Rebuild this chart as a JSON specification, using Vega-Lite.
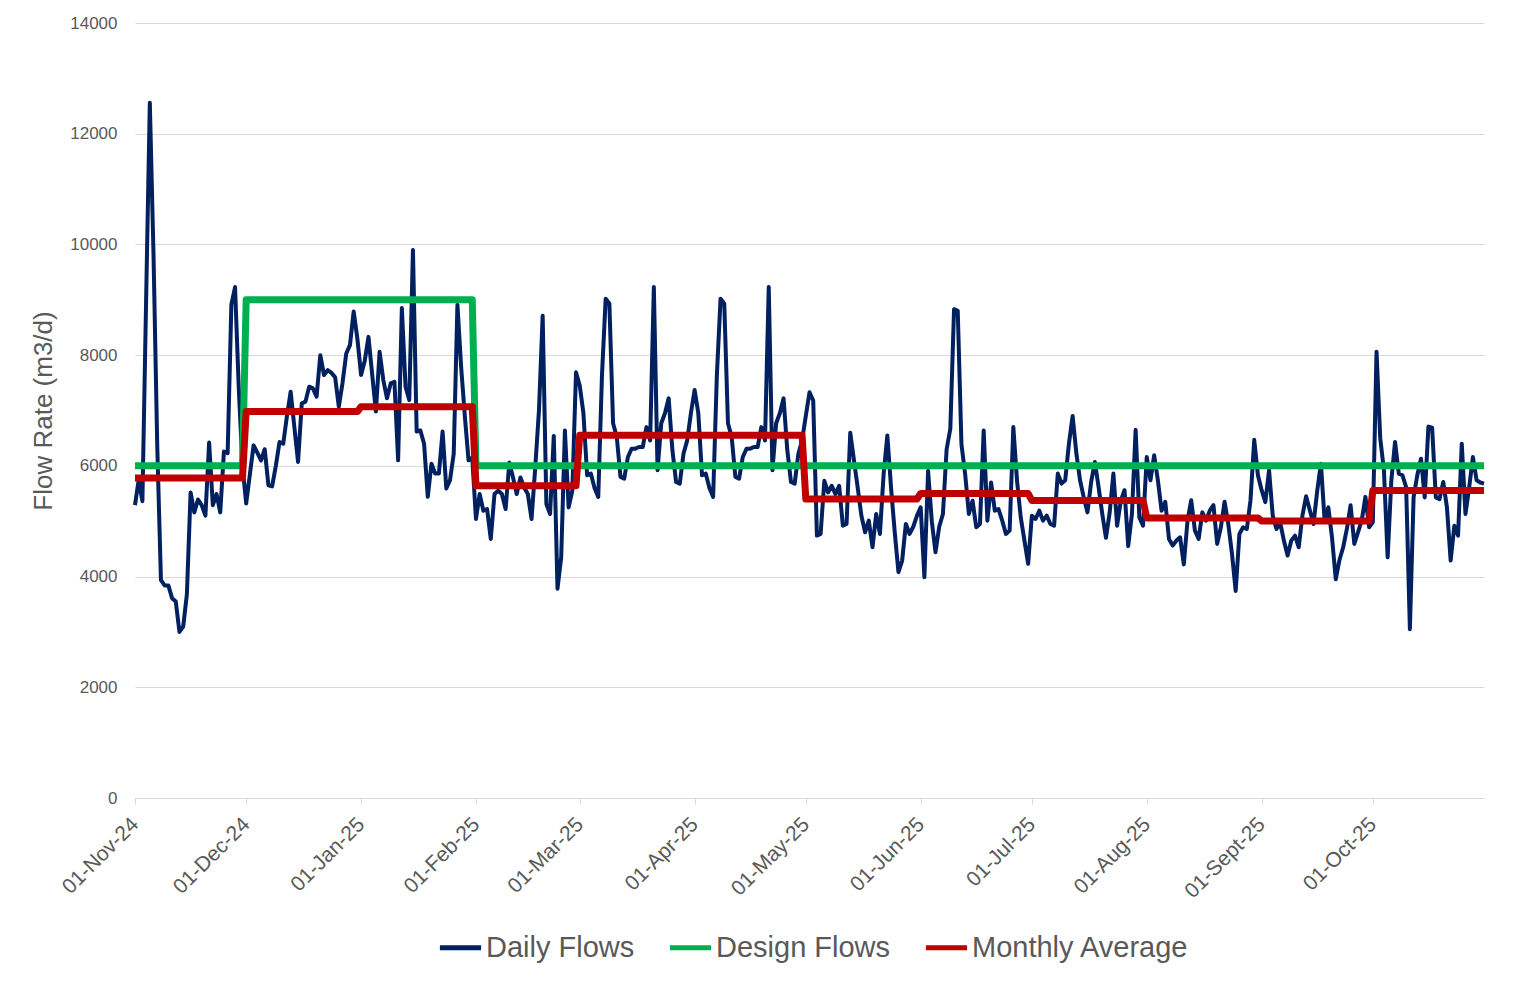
{
  "$schema": "https://vega.github.io/schema/vega-lite/v6.json",
  "width": 1349,
  "height": 775,
  "autosize": "none",
  "padding": {"left": 135, "top": 23, "right": 44, "bottom": 195},
  "background": "white",
  "config": {
    "font": "Liberation Sans",
    "view": {"stroke": null},
    "axis": {"labelColor": "#595959", "titleColor": "#595959", "gridColor": "#d9d9d9", "domainColor": "#d9d9d9", "tickColor": "#d9d9d9"}
  },
  "datasets": {
    "daily": [
      {"date": "2024-11-01", "flow": 5290}, {"date": "2024-11-02", "flow": 5750}, {"date": "2024-11-03", "flow": 5360}, {"date": "2024-11-04", "flow": 9000}, {"date": "2024-11-05", "flow": 12560},
      {"date": "2024-11-06", "flow": 9800}, {"date": "2024-11-07", "flow": 6370}, {"date": "2024-11-08", "flow": 3935}, {"date": "2024-11-09", "flow": 3840}, {"date": "2024-11-10", "flow": 3840},
      {"date": "2024-11-11", "flow": 3610}, {"date": "2024-11-12", "flow": 3550}, {"date": "2024-11-13", "flow": 3000}, {"date": "2024-11-14", "flow": 3095}, {"date": "2024-11-15", "flow": 3680},
      {"date": "2024-11-16", "flow": 5520}, {"date": "2024-11-17", "flow": 5160}, {"date": "2024-11-18", "flow": 5390}, {"date": "2024-11-19", "flow": 5290}, {"date": "2024-11-20", "flow": 5100},
      {"date": "2024-11-21", "flow": 6420}, {"date": "2024-11-22", "flow": 5290}, {"date": "2024-11-23", "flow": 5490}, {"date": "2024-11-24", "flow": 5160}, {"date": "2024-11-25", "flow": 6260},
      {"date": "2024-11-26", "flow": 6230}, {"date": "2024-11-27", "flow": 8910}, {"date": "2024-11-28", "flow": 9230}, {"date": "2024-11-29", "flow": 7400}, {"date": "2024-11-30", "flow": 6000},
      {"date": "2024-12-01", "flow": 5320}, {"date": "2024-12-02", "flow": 5850}, {"date": "2024-12-03", "flow": 6370}, {"date": "2024-12-04", "flow": 6240}, {"date": "2024-12-05", "flow": 6100},
      {"date": "2024-12-06", "flow": 6300}, {"date": "2024-12-07", "flow": 5650}, {"date": "2024-12-08", "flow": 5630}, {"date": "2024-12-09", "flow": 6000}, {"date": "2024-12-10", "flow": 6430},
      {"date": "2024-12-11", "flow": 6400}, {"date": "2024-12-12", "flow": 6900}, {"date": "2024-12-13", "flow": 7340}, {"date": "2024-12-14", "flow": 6700}, {"date": "2024-12-15", "flow": 6070},
      {"date": "2024-12-16", "flow": 7130}, {"date": "2024-12-17", "flow": 7160}, {"date": "2024-12-18", "flow": 7430}, {"date": "2024-12-19", "flow": 7400}, {"date": "2024-12-20", "flow": 7250},
      {"date": "2024-12-21", "flow": 8000}, {"date": "2024-12-22", "flow": 7640}, {"date": "2024-12-23", "flow": 7730}, {"date": "2024-12-24", "flow": 7680}, {"date": "2024-12-25", "flow": 7600},
      {"date": "2024-12-26", "flow": 7070}, {"date": "2024-12-27", "flow": 7500}, {"date": "2024-12-28", "flow": 8030}, {"date": "2024-12-29", "flow": 8180}, {"date": "2024-12-30", "flow": 8790},
      {"date": "2024-12-31", "flow": 8300},
      {"date": "2025-01-01", "flow": 7640}, {"date": "2025-01-02", "flow": 7900}, {"date": "2025-01-03", "flow": 8330}, {"date": "2025-01-04", "flow": 7650}, {"date": "2025-01-05", "flow": 6980},
      {"date": "2025-01-06", "flow": 8060}, {"date": "2025-01-07", "flow": 7550}, {"date": "2025-01-08", "flow": 7220}, {"date": "2025-01-09", "flow": 7490}, {"date": "2025-01-10", "flow": 7520},
      {"date": "2025-01-11", "flow": 6100}, {"date": "2025-01-12", "flow": 8850}, {"date": "2025-01-13", "flow": 7430}, {"date": "2025-01-14", "flow": 7190}, {"date": "2025-01-15", "flow": 9900},
      {"date": "2025-01-16", "flow": 6620}, {"date": "2025-01-17", "flow": 6640}, {"date": "2025-01-18", "flow": 6400}, {"date": "2025-01-19", "flow": 5440}, {"date": "2025-01-20", "flow": 6040},
      {"date": "2025-01-21", "flow": 5860}, {"date": "2025-01-22", "flow": 5860}, {"date": "2025-01-23", "flow": 6620}, {"date": "2025-01-24", "flow": 5590}, {"date": "2025-01-25", "flow": 5740},
      {"date": "2025-01-26", "flow": 6220}, {"date": "2025-01-27", "flow": 8910}, {"date": "2025-01-28", "flow": 7790}, {"date": "2025-01-29", "flow": 6900}, {"date": "2025-01-30", "flow": 6100},
      {"date": "2025-01-31", "flow": 6150},
      {"date": "2025-02-01", "flow": 5040}, {"date": "2025-02-02", "flow": 5490}, {"date": "2025-02-03", "flow": 5190}, {"date": "2025-02-04", "flow": 5220}, {"date": "2025-02-05", "flow": 4680},
      {"date": "2025-02-06", "flow": 5490}, {"date": "2025-02-07", "flow": 5550}, {"date": "2025-02-08", "flow": 5490}, {"date": "2025-02-09", "flow": 5220}, {"date": "2025-02-10", "flow": 6060},
      {"date": "2025-02-11", "flow": 5790}, {"date": "2025-02-12", "flow": 5490}, {"date": "2025-02-13", "flow": 5790}, {"date": "2025-02-14", "flow": 5610}, {"date": "2025-02-15", "flow": 5490},
      {"date": "2025-02-16", "flow": 5040}, {"date": "2025-02-17", "flow": 5970}, {"date": "2025-02-18", "flow": 7000}, {"date": "2025-02-19", "flow": 8710}, {"date": "2025-02-20", "flow": 5310},
      {"date": "2025-02-21", "flow": 5130}, {"date": "2025-02-22", "flow": 6540}, {"date": "2025-02-23", "flow": 3780}, {"date": "2025-02-24", "flow": 4350}, {"date": "2025-02-25", "flow": 6640},
      {"date": "2025-02-26", "flow": 5250}, {"date": "2025-02-27", "flow": 5550}, {"date": "2025-02-28", "flow": 7690},
      {"date": "2025-03-01", "flow": 7450}, {"date": "2025-03-02", "flow": 6950}, {"date": "2025-03-03", "flow": 5830}, {"date": "2025-03-04", "flow": 5860}, {"date": "2025-03-05", "flow": 5600},
      {"date": "2025-03-06", "flow": 5440}, {"date": "2025-03-07", "flow": 7630}, {"date": "2025-03-08", "flow": 9020}, {"date": "2025-03-09", "flow": 8930}, {"date": "2025-03-10", "flow": 6770},
      {"date": "2025-03-11", "flow": 6520}, {"date": "2025-03-12", "flow": 5800}, {"date": "2025-03-13", "flow": 5770}, {"date": "2025-03-14", "flow": 6160}, {"date": "2025-03-15", "flow": 6310},
      {"date": "2025-03-16", "flow": 6310}, {"date": "2025-03-17", "flow": 6340}, {"date": "2025-03-18", "flow": 6340}, {"date": "2025-03-19", "flow": 6700}, {"date": "2025-03-20", "flow": 6460},
      {"date": "2025-03-21", "flow": 9230}, {"date": "2025-03-22", "flow": 5920}, {"date": "2025-03-23", "flow": 6770}, {"date": "2025-03-24", "flow": 6950}, {"date": "2025-03-25", "flow": 7220},
      {"date": "2025-03-26", "flow": 6290}, {"date": "2025-03-27", "flow": 5710}, {"date": "2025-03-28", "flow": 5680}, {"date": "2025-03-29", "flow": 6220}, {"date": "2025-03-30", "flow": 6460},
      {"date": "2025-03-31", "flow": 6950},
      {"date": "2025-04-01", "flow": 7370}, {"date": "2025-04-02", "flow": 6950}, {"date": "2025-04-03", "flow": 5830}, {"date": "2025-04-04", "flow": 5860}, {"date": "2025-04-05", "flow": 5600},
      {"date": "2025-04-06", "flow": 5440}, {"date": "2025-04-07", "flow": 7630}, {"date": "2025-04-08", "flow": 9020}, {"date": "2025-04-09", "flow": 8930}, {"date": "2025-04-10", "flow": 6770},
      {"date": "2025-04-11", "flow": 6520}, {"date": "2025-04-12", "flow": 5800}, {"date": "2025-04-13", "flow": 5770}, {"date": "2025-04-14", "flow": 6160}, {"date": "2025-04-15", "flow": 6310},
      {"date": "2025-04-16", "flow": 6310}, {"date": "2025-04-17", "flow": 6340}, {"date": "2025-04-18", "flow": 6340}, {"date": "2025-04-19", "flow": 6700}, {"date": "2025-04-20", "flow": 6460},
      {"date": "2025-04-21", "flow": 9230}, {"date": "2025-04-22", "flow": 5920}, {"date": "2025-04-23", "flow": 6770}, {"date": "2025-04-24", "flow": 6950}, {"date": "2025-04-25", "flow": 7220},
      {"date": "2025-04-26", "flow": 6290}, {"date": "2025-04-27", "flow": 5710}, {"date": "2025-04-28", "flow": 5680}, {"date": "2025-04-29", "flow": 6220}, {"date": "2025-04-30", "flow": 6460},
      {"date": "2025-05-01", "flow": 6900}, {"date": "2025-05-02", "flow": 7330}, {"date": "2025-05-03", "flow": 7180}, {"date": "2025-05-04", "flow": 4740}, {"date": "2025-05-05", "flow": 4770},
      {"date": "2025-05-06", "flow": 5730}, {"date": "2025-05-07", "flow": 5520}, {"date": "2025-05-08", "flow": 5640}, {"date": "2025-05-09", "flow": 5490}, {"date": "2025-05-10", "flow": 5640},
      {"date": "2025-05-11", "flow": 4920}, {"date": "2025-05-12", "flow": 4950}, {"date": "2025-05-13", "flow": 6600}, {"date": "2025-05-14", "flow": 6100}, {"date": "2025-05-15", "flow": 5610},
      {"date": "2025-05-16", "flow": 5100}, {"date": "2025-05-17", "flow": 4800}, {"date": "2025-05-18", "flow": 5010}, {"date": "2025-05-19", "flow": 4530}, {"date": "2025-05-20", "flow": 5130},
      {"date": "2025-05-21", "flow": 4770}, {"date": "2025-05-22", "flow": 5850}, {"date": "2025-05-23", "flow": 6550}, {"date": "2025-05-24", "flow": 5610}, {"date": "2025-05-25", "flow": 4800},
      {"date": "2025-05-26", "flow": 4080}, {"date": "2025-05-27", "flow": 4290}, {"date": "2025-05-28", "flow": 4950}, {"date": "2025-05-29", "flow": 4770}, {"date": "2025-05-30", "flow": 4900},
      {"date": "2025-05-31", "flow": 5100},
      {"date": "2025-06-01", "flow": 5250}, {"date": "2025-06-02", "flow": 3990}, {"date": "2025-06-03", "flow": 5910}, {"date": "2025-06-04", "flow": 5000}, {"date": "2025-06-05", "flow": 4440},
      {"date": "2025-06-06", "flow": 4900}, {"date": "2025-06-07", "flow": 5130}, {"date": "2025-06-08", "flow": 6300}, {"date": "2025-06-09", "flow": 6670}, {"date": "2025-06-10", "flow": 8830},
      {"date": "2025-06-11", "flow": 8800}, {"date": "2025-06-12", "flow": 6390}, {"date": "2025-06-13", "flow": 5850}, {"date": "2025-06-14", "flow": 5130}, {"date": "2025-06-15", "flow": 5370},
      {"date": "2025-06-16", "flow": 4890}, {"date": "2025-06-17", "flow": 4950}, {"date": "2025-06-18", "flow": 6640}, {"date": "2025-06-19", "flow": 5010}, {"date": "2025-06-20", "flow": 5700},
      {"date": "2025-06-21", "flow": 5190}, {"date": "2025-06-22", "flow": 5220}, {"date": "2025-06-23", "flow": 5010}, {"date": "2025-06-24", "flow": 4770}, {"date": "2025-06-25", "flow": 4830},
      {"date": "2025-06-26", "flow": 6700}, {"date": "2025-06-27", "flow": 5730}, {"date": "2025-06-28", "flow": 5070}, {"date": "2025-06-29", "flow": 4650}, {"date": "2025-06-30", "flow": 4230},
      {"date": "2025-07-01", "flow": 5100}, {"date": "2025-07-02", "flow": 5040}, {"date": "2025-07-03", "flow": 5190}, {"date": "2025-07-04", "flow": 5010}, {"date": "2025-07-05", "flow": 5100},
      {"date": "2025-07-06", "flow": 4950}, {"date": "2025-07-07", "flow": 4920}, {"date": "2025-07-08", "flow": 5860}, {"date": "2025-07-09", "flow": 5680}, {"date": "2025-07-10", "flow": 5740},
      {"date": "2025-07-11", "flow": 6400}, {"date": "2025-07-12", "flow": 6900}, {"date": "2025-07-13", "flow": 6230}, {"date": "2025-07-14", "flow": 5740}, {"date": "2025-07-15", "flow": 5430},
      {"date": "2025-07-16", "flow": 5160}, {"date": "2025-07-17", "flow": 5710}, {"date": "2025-07-18", "flow": 6070}, {"date": "2025-07-19", "flow": 5620}, {"date": "2025-07-20", "flow": 5130},
      {"date": "2025-07-21", "flow": 4700}, {"date": "2025-07-22", "flow": 5160}, {"date": "2025-07-23", "flow": 5860}, {"date": "2025-07-24", "flow": 4920}, {"date": "2025-07-25", "flow": 5370},
      {"date": "2025-07-26", "flow": 5560}, {"date": "2025-07-27", "flow": 4550}, {"date": "2025-07-28", "flow": 5130}, {"date": "2025-07-29", "flow": 6650}, {"date": "2025-07-30", "flow": 5070},
      {"date": "2025-07-31", "flow": 4920},
      {"date": "2025-08-01", "flow": 6160}, {"date": "2025-08-02", "flow": 5740}, {"date": "2025-08-03", "flow": 6190}, {"date": "2025-08-04", "flow": 5740}, {"date": "2025-08-05", "flow": 5190},
      {"date": "2025-08-06", "flow": 5350}, {"date": "2025-08-07", "flow": 4680}, {"date": "2025-08-08", "flow": 4560}, {"date": "2025-08-09", "flow": 4650}, {"date": "2025-08-10", "flow": 4710},
      {"date": "2025-08-11", "flow": 4220}, {"date": "2025-08-12", "flow": 5010}, {"date": "2025-08-13", "flow": 5380}, {"date": "2025-08-14", "flow": 4830}, {"date": "2025-08-15", "flow": 4680},
      {"date": "2025-08-16", "flow": 5160}, {"date": "2025-08-17", "flow": 5010}, {"date": "2025-08-18", "flow": 5190}, {"date": "2025-08-19", "flow": 5290}, {"date": "2025-08-20", "flow": 4590},
      {"date": "2025-08-21", "flow": 4890}, {"date": "2025-08-22", "flow": 5350}, {"date": "2025-08-23", "flow": 4950}, {"date": "2025-08-24", "flow": 4410}, {"date": "2025-08-25", "flow": 3740},
      {"date": "2025-08-26", "flow": 4770}, {"date": "2025-08-27", "flow": 4890}, {"date": "2025-08-28", "flow": 4860}, {"date": "2025-08-29", "flow": 5380}, {"date": "2025-08-30", "flow": 6470},
      {"date": "2025-08-31", "flow": 5830},
      {"date": "2025-09-01", "flow": 5560}, {"date": "2025-09-02", "flow": 5345}, {"date": "2025-09-03", "flow": 5920}, {"date": "2025-09-04", "flow": 5100}, {"date": "2025-09-05", "flow": 4860},
      {"date": "2025-09-06", "flow": 4980}, {"date": "2025-09-07", "flow": 4650}, {"date": "2025-09-08", "flow": 4380}, {"date": "2025-09-09", "flow": 4650}, {"date": "2025-09-10", "flow": 4740},
      {"date": "2025-09-11", "flow": 4530}, {"date": "2025-09-12", "flow": 5100}, {"date": "2025-09-13", "flow": 5450}, {"date": "2025-09-14", "flow": 5200}, {"date": "2025-09-15", "flow": 4950},
      {"date": "2025-09-16", "flow": 5550}, {"date": "2025-09-17", "flow": 6040}, {"date": "2025-09-18", "flow": 5000}, {"date": "2025-09-19", "flow": 5250}, {"date": "2025-09-20", "flow": 4700},
      {"date": "2025-09-21", "flow": 3950}, {"date": "2025-09-22", "flow": 4300}, {"date": "2025-09-23", "flow": 4530}, {"date": "2025-09-24", "flow": 4860}, {"date": "2025-09-25", "flow": 5290},
      {"date": "2025-09-26", "flow": 4590}, {"date": "2025-09-27", "flow": 4800}, {"date": "2025-09-28", "flow": 5010}, {"date": "2025-09-29", "flow": 5440}, {"date": "2025-09-30", "flow": 4890},
      {"date": "2025-10-01", "flow": 4980}, {"date": "2025-10-02", "flow": 8060}, {"date": "2025-10-03", "flow": 6500}, {"date": "2025-10-04", "flow": 5920}, {"date": "2025-10-05", "flow": 4350},
      {"date": "2025-10-06", "flow": 5740}, {"date": "2025-10-07", "flow": 6430}, {"date": "2025-10-08", "flow": 5860}, {"date": "2025-10-09", "flow": 5830}, {"date": "2025-10-10", "flow": 5610},
      {"date": "2025-10-11", "flow": 3050}, {"date": "2025-10-12", "flow": 5430}, {"date": "2025-10-13", "flow": 5830}, {"date": "2025-10-14", "flow": 6130}, {"date": "2025-10-15", "flow": 5430},
      {"date": "2025-10-16", "flow": 6710}, {"date": "2025-10-17", "flow": 6690}, {"date": "2025-10-18", "flow": 5430}, {"date": "2025-10-19", "flow": 5400}, {"date": "2025-10-20", "flow": 5710},
      {"date": "2025-10-21", "flow": 5250}, {"date": "2025-10-22", "flow": 4290}, {"date": "2025-10-23", "flow": 4920}, {"date": "2025-10-24", "flow": 4740}, {"date": "2025-10-25", "flow": 6400},
      {"date": "2025-10-26", "flow": 5130}, {"date": "2025-10-27", "flow": 5610}, {"date": "2025-10-28", "flow": 6160}, {"date": "2025-10-29", "flow": 5740}, {"date": "2025-10-30", "flow": 5700},
      {"date": "2025-10-31", "flow": 5680}
    ],
    "monthly": [
      {"date": "2024-11-01", "design": 6000, "average": 5780}, {"date": "2024-11-30", "design": 6000, "average": 5780},
      {"date": "2024-12-01", "design": 9000, "average": 6980}, {"date": "2024-12-31", "design": 9000, "average": 6980},
      {"date": "2025-01-01", "design": 9000, "average": 7070}, {"date": "2025-01-31", "design": 9000, "average": 7070},
      {"date": "2025-02-01", "design": 6000, "average": 5640}, {"date": "2025-02-28", "design": 6000, "average": 5640},
      {"date": "2025-03-01", "design": 6000, "average": 6555}, {"date": "2025-03-31", "design": 6000, "average": 6555},
      {"date": "2025-04-01", "design": 6000, "average": 6555}, {"date": "2025-04-30", "design": 6000, "average": 6555},
      {"date": "2025-05-01", "design": 6000, "average": 5400}, {"date": "2025-05-31", "design": 6000, "average": 5400},
      {"date": "2025-06-01", "design": 6000, "average": 5500}, {"date": "2025-06-30", "design": 6000, "average": 5500},
      {"date": "2025-07-01", "design": 6000, "average": 5375}, {"date": "2025-07-31", "design": 6000, "average": 5375},
      {"date": "2025-08-01", "design": 6000, "average": 5060}, {"date": "2025-08-31", "design": 6000, "average": 5060},
      {"date": "2025-09-01", "design": 6000, "average": 5005}, {"date": "2025-09-30", "design": 6000, "average": 5005},
      {"date": "2025-10-01", "design": 6000, "average": 5555}, {"date": "2025-10-31", "design": 6000, "average": 5555}
    ]
  },
  "encoding": {
    "x": {
      "field": "date",
      "type": "temporal",
      "scale": {
        "type": "utc",
        "domain": [
          {"year": 2024, "month": 11, "date": 1, "utc": true},
          {"year": 2025, "month": 10, "date": 31, "utc": true}
        ]
      },
      "axis": {
        "title": null,
        "grid": false,
        "tickCount": {"interval": "month", "step": 1},
        "labelExpr": "replace(utcFormat(datum.value, '%d-%b-%y'), 'Sep-', 'Sept-')",
        "labelAngle": -45,
        "labelAlign": "right",
        "labelBaseline": "middle",
        "labelFontSize": 21,
        "labelPadding": 17,
        "tickSize": 6,
        "labelFlush": false,
        "labelOverlap": false
      }
    }
  },
  "layer": [
    {
      "data": {"name": "daily"},
      "mark": {"type": "line", "strokeWidth": 4, "strokeJoin": "round"},
      "encoding": {
        "y": {
          "field": "flow",
          "type": "quantitative",
          "scale": {"domain": [0, 14000], "nice": false},
          "axis": {
            "title": "Flow Rate (m3/d)",
            "titleFontSize": 26,
            "titleFontWeight": "normal",
            "titleX": -79,
            "values": [0, 2000, 4000, 6000, 8000, 10000, 12000, 14000],
            "format": "d",
            "labelFontSize": 17,
            "labelPadding": 18,
            "ticks": false,
            "tickSize": 0,
            "domain": false
          }
        },
        "color": {
          "datum": "Daily Flows",
          "type": "nominal",
          "scale": {
            "domain": ["Daily Flows", "Design Flows", "Monthly Average"],
            "range": ["#002060", "#00B050", "#C00000"]
          },
          "legend": {
            "title": null,
            "orient": "none",
            "legendX": 302,
            "legendY": 901,
            "direction": "horizontal",
            "padding": 0,
            "symbolType": "stroke",
            "symbolSize": 1700,
            "symbolStrokeWidth": 5,
            "labelFontSize": 29,
            "labelColor": "#595959",
            "labelLimit": 400,
            "labelOffset": 2,
            "columnPadding": 24
          }
        }
      }
    },
    {
      "data": {"name": "monthly"},
      "mark": {"type": "line", "strokeWidth": 7, "strokeJoin": "round"},
      "encoding": {
        "y": {"field": "design", "type": "quantitative"},
        "color": {"datum": "Design Flows", "type": "nominal"}
      }
    },
    {
      "data": {"name": "monthly"},
      "mark": {"type": "line", "strokeWidth": 7, "strokeJoin": "round"},
      "encoding": {
        "y": {"field": "average", "type": "quantitative"},
        "color": {"datum": "Monthly Average", "type": "nominal"}
      }
    }
  ]
}
